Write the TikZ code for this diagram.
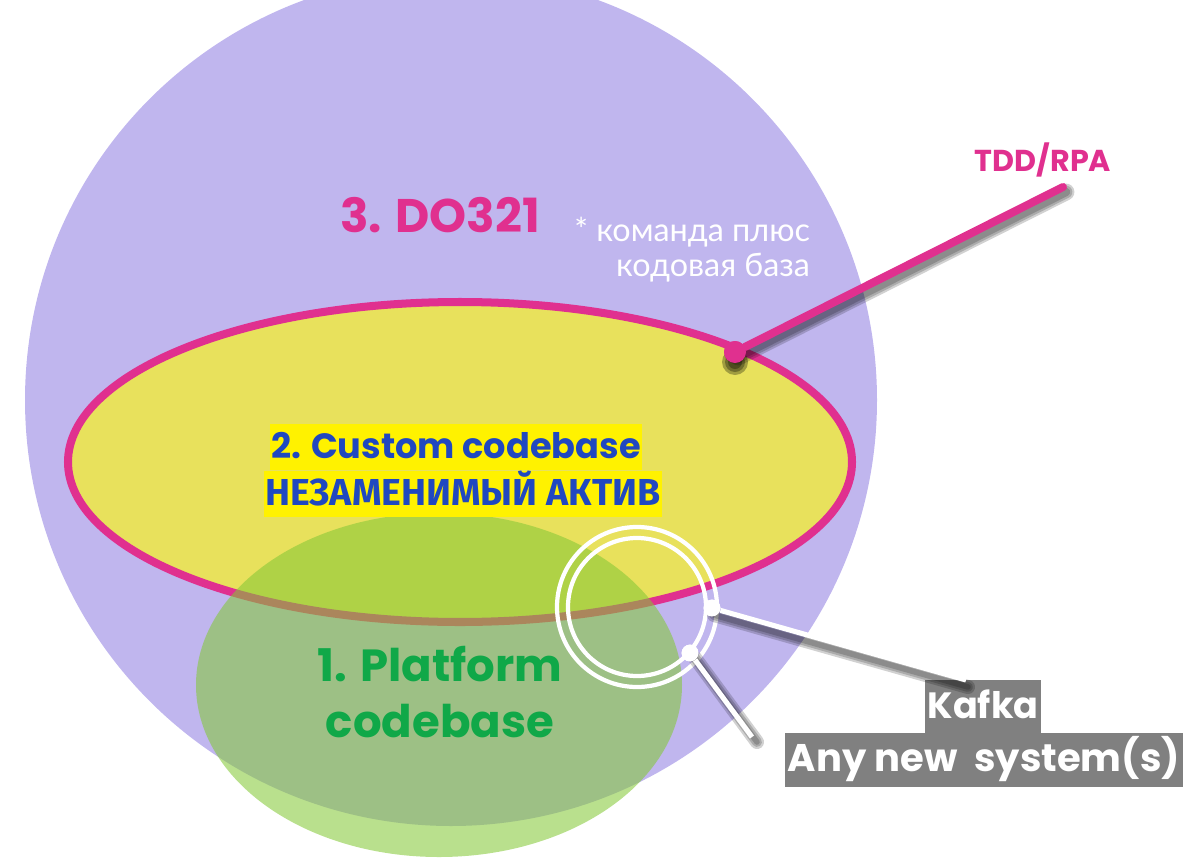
\documentclass[tikz,border=0pt]{standalone}
\usepackage{fontspec}
\setmainfont{Poppins}
\newfontfamily\cyrfont{Fira Sans}
\newfontfamily\thinfont{Lato}
\usetikzlibrary{positioning}

\definecolor{lilac}{RGB}{192,182,238}
\definecolor{mustard}{RGB}{232,225,92}
\definecolor{magenta}{RGB}{224,48,143}
\definecolor{leaf}{RGB}{132,200,55}
\definecolor{navy}{RGB}{32,72,192}
\definecolor{grass}{RGB}{16,168,72}
\definecolor{slate}{RGB}{128,128,128}

\begin{document}
\begin{tikzpicture}[x=0.025cm,y=-0.025cm]

\tikzset{ring/.style = {draw=white, line width=3pt}}
\tikzset{pdot/.style = {shape=circle, fill=magenta, minimum size=0.55cm, inner sep=0pt}}
\tikzset{wdot/.style = {shape=circle, fill=white, minimum size=0.42cm, inner sep=0pt}}
\tikzset{pline/.style = {draw=magenta, line width=5.7pt, line cap=round}}
\tikzset{wline/.style = {draw=white, line width=3.6pt}}
\tikzset{shade/.style = {draw=black, line width=#1, opacity=0.18, line cap=round}}
\tikzset{hilite/.style = {fill=yellow, text=navy, inner sep=1pt, text height=0.82cm, text depth=0.26cm, font=\fontsize{25}{28}\selectfont\bfseries}}
\tikzset{grey/.style = {fill=slate, text=white, inner sep=2pt, text height=0.9cm, text depth=0.32cm, font=\fontsize{26}{30}\selectfont\bfseries}}

\useasboundingbox (0,0) rectangle (1184,861);
\clip (0,0) rectangle (1184,861);
%areas
\fill[lilac] (451,400) circle [radius=426];
\draw[fill=mustard, draw=magenta, line width=5.7pt] (460,462) ellipse [x radius=392, y radius=160];
\fill[leaf, opacity=0.57] (439,685) ellipse [x radius=243, y radius=172];

%texts
\node[text=magenta, font=\fontsize{33.5}{40}\selectfont\bfseries] (do) at (440,215) {3. DO321};
\node[text=white, align=right, font=\thinfont\fontsize{23}{25}\selectfont, anchor=north east] (team) at (815,212) {* команда плюс\\кодовая база};
\node[hilite] (custom) at (456,447) {2. Custom codebase};
\node[hilite, font=\cyrfont\fontsize{26.7}{28}\selectfont\bfseries] (asset) at (463,494) {НЕЗАМЕНИМЫЙ АКТИВ};
\node[text=grass, align=center, font=\fontsize{32}{40}\selectfont\bfseries] (platform) at (440,692) {1. Platform\\codebase};

%TDD/RPA pointer
\node[pdot] (tdd) at (735,352) {};
\coordinate (tddend) at (1063,187);
\node[text=magenta, font=\fontsize{21.5}{24}\selectfont\bfseries] (tddlab) at (1043,160) {TDD/RPA};
\foreach \r in {13,10,7} \fill[black, opacity=0.3] (735,362) circle [radius=\r];
\foreach \w in {12pt,9pt,6pt} \draw[shade=\w] ([shift={(3,5)}]tdd.center) -- ([shift={(3,5)}]tddend);
\draw[pline] (tdd) -- (tddend);
\node[pdot] at (tdd) {};

%rings
\draw[ring] (637,607) circle [radius=80];
\draw[ring] (637,607) circle [radius=69];

%Kafka pointers
\node[grey] (kafka) at (983,707) {Kafka};
\node[grey, font=\fontsize{27.4}{30}\selectfont\bfseries] (anynew) at (984,760) {Any new\ \ system(s)};
\node[wdot] (kdot) at (712,608) {};
\node[wdot] (ndot) at (690,653) {};
\coordinate (kend) at (966,680);
\coordinate (nend) at (752,737);
\foreach \w in {10pt,7pt,4pt} {
  \draw[shade=\w] ([shift={(2,7)}]kdot.center) -- ([shift={(2,7)}]kend);
  \draw[shade=\w] ([shift={(5,5)}]ndot.center) -- ([shift={(5,5)}]nend);
}
\draw[wline] (kdot) -- (kend);
\draw[wline] (ndot) -- (nend);
\node[wdot] at (kdot) {};
\node[wdot] at (ndot) {};

\end{tikzpicture}
\end{document}
